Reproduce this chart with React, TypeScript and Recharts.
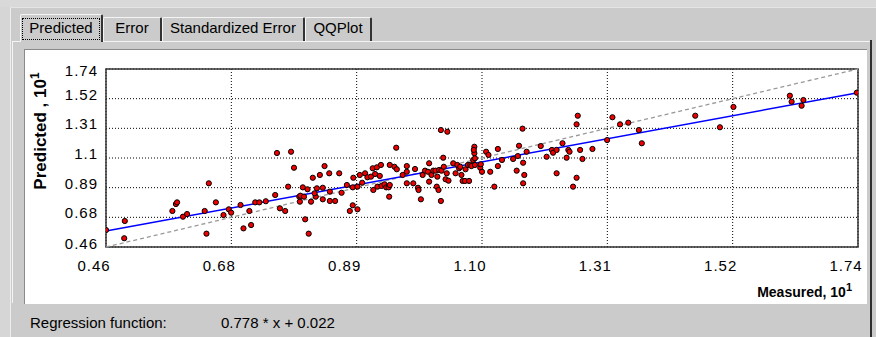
import React from 'react';
import {
  ScatterChart,
  Scatter,
  XAxis,
  YAxis,
  CartesianGrid,
  ReferenceLine,
  ReferenceArea,
} from 'recharts';

const measured = [
  0.46, 0.492, 0.491, 0.573, 0.579, 0.581, 0.591, 0.598, 0.628, 0.631,
  0.635, 0.647, 0.66, 0.669, 0.673, 0.689, 0.694, 0.707, 0.704, 0.714,
  0.721, 0.732, 0.748, 0.756, 0.765, 0.77, 0.751, 0.775, 0.78, 0.789,
  0.791, 0.795, 0.797, 0.803, 0.809, 0.812, 0.799, 0.805, 0.79, 0.817,
  0.819, 0.815, 0.824, 0.829, 0.829, 0.832, 0.84, 0.841, 0.841, 0.85,
  0.857, 0.861, 0.87, 0.875, 0.88, 0.881, 0.888, 0.88, 0.888, 0.892,
  0.896, 0.901, 0.905, 0.911, 0.914, 0.915, 0.918, 0.921, 0.922, 0.926,
  0.928, 0.929, 0.934, 0.937, 0.941, 0.942, 0.943, 0.943, 0.954, 0.951,
  0.955, 0.965, 0.972, 0.972, 0.972, 0.983, 0.986, 0.991, 0.992, 0.996,
  0.999, 1.003, 1.008, 1.01, 1.01, 1.014, 1.017, 1.021, 1.023, 1.024,
  1.026, 1.03, 1.027, 1.031, 1.034, 1.035, 1.03, 1.041, 1.038, 1.04,
  1.043, 1.051, 1.055, 1.058, 1.061, 1.063, 1.065, 1.067, 1.071, 1.072,
  1.076, 1.078, 1.08, 1.082, 1.085, 1.087, 1.087, 1.088, 1.086, 1.088,
  1.097, 1.098, 1.1, 1.107, 1.111, 1.114, 1.121, 1.127, 1.127, 1.134,
  1.153, 1.159, 1.161, 1.163, 1.169, 1.17, 1.172, 1.17, 1.176, 1.2,
  1.21, 1.219, 1.221, 1.227, 1.227, 1.237, 1.244, 1.247, 1.255, 1.261,
  1.263, 1.261, 1.249, 1.267, 1.271, 1.288, 1.313, 1.322, 1.335, 1.349,
  1.367, 1.372, 1.463, 1.505, 1.528, 1.624, 1.627, 1.644, 1.647, 1.738,
];

const predicted = [
  0.582, 0.647, 0.523, 0.719, 0.769, 0.781, 0.678, 0.697, 0.719, 0.556,
  0.918, 0.781, 0.69, 0.731, 0.707, 0.762, 0.594, 0.618, 0.719, 0.781,
  0.781, 0.789, 0.834, 0.738, 0.719, 0.894, 1.136, 1.145, 1.03, 0.822,
  0.829, 0.889, 0.822, 0.875, 0.786, 0.958, 0.659, 0.556, 0.786, 0.822,
  0.882, 0.846, 0.978, 0.886, 0.803, 1.042, 0.99, 0.858, 0.791, 0.791,
  0.99, 0.85, 0.906, 0.719, 0.76, 0.958, 0.731, 0.889, 0.894, 0.978,
  0.922, 0.99, 0.961, 0.966, 1.026, 0.87, 0.985, 1.033, 0.894, 0.971,
  1.05, 0.899, 0.911, 0.889, 0.889, 0.822, 0.906, 1.05, 1.174, 1.037,
  1.019, 0.978, 0.918, 1.001, 1.042, 0.918, 1.021, 0.886, 0.87, 0.803,
  0.978, 1.009, 1.001, 1.062, 0.93, 0.978, 1.009, 1.009, 0.894, 0.966,
  0.87, 0.791, 1.014, 1.009, 1.102, 1.037, 1.301, 1.289, 0.947, 0.99,
  0.937, 1.062, 0.99, 1.05, 1.026, 1.037, 0.978, 0.935, 0.935, 1.019,
  1.05, 0.935, 1.05, 1.042, 1.086, 1.181, 1.134, 1.098, 1.158, 1.05,
  1.03, 1.055, 1.001, 1.145, 1.122, 1.001, 0.894, 1.165, 1.042, 1.086,
  1.093, 1.009, 1.114, 1.188, 1.311, 1.066, 0.978, 0.918, 1.145, 1.186,
  1.109, 1.158, 1.138, 1.158, 0.99, 1.206, 1.102, 1.158, 0.894, 0.958,
  1.404, 1.342, 1.145, 1.158, 1.093, 1.165, 1.229, 1.393, 1.342, 1.354,
  1.301, 1.206, 1.404, 1.321, 1.467, 1.548, 1.505, 1.476, 1.517, 1.57,
];

const xTickLabels = ['0.46', '0.68', '0.89', '1.10', '1.31', '1.52', '1.74'];
const yTickLabels = ['0.46', '0.68', '0.89', '1.1', '1.31', '1.52', '1.74'];

const regressionLine = [
  { x: 0.46, y: 0.575 },
  { x: 1.74, y: 1.57 },
];
const identityLine = [
  { x: 0.46, y: 0.46 },
  { x: 1.74, y: 1.74 },
];

const axisMin = 0.46;
const axisMax = 1.74;

const points = measured.map((x, i) => ({ x, y: predicted[i] }));
const ticks = xTickLabels.map((_, i) => axisMin + (i * (axisMax - axisMin)) / 6);

const FONT = '"Liberation Sans", Arial, sans-serif';
const GREY = '#cbcbcb';

const XTick = (props: any) => {
  const { x, y, payload } = props;
  return (
    <text x={x - 12} y={y + 24} textAnchor="middle" fontSize={15} letterSpacing={1} fill="#000" fontFamily={FONT}>
      {xTickLabels[payload.index]}
    </text>
  );
};

const YTick = (props: any) => {
  const { x, y, payload } = props;
  const dy = payload.index === 6 ? 7 : payload.index === 0 ? 2 : 1;
  return (
    <text x={x - 8} y={y + dy} textAnchor="end" fontSize={15} letterSpacing={1} fill="#000" fontFamily={FONT}>
      {yTickLabels[payload.index]}
    </text>
  );
};

const Dot = (props: any) => (
  <circle cx={props.cx} cy={props.cy} r={2.6} fill="#ee0000" stroke="#000" strokeWidth={1} />
);

const tabs = [
  { label: 'Predicted', left: 20, width: 83, selected: true },
  { label: 'Error', left: 103, width: 59 },
  { label: 'Standardized Error', left: 162, width: 143 },
  { label: 'QQPlot', left: 305, width: 67 },
];

const App: React.FC = () => {
  return (
    <div
      style={{
        position: 'absolute',
        left: 0,
        top: 0,
        width: 876,
        height: 337,
        background: GREY,
        overflow: 'hidden',
        fontFamily: FONT,
      }}
    >
      {/* window chrome */}
      <div style={{ position: 'absolute', left: 0, top: 0, width: 876, height: 7, background: '#d9d9d9' }} />
      <div style={{ position: 'absolute', left: 10, top: 7, width: 1, height: 330, background: '#eeeeee' }} />
      <div style={{ position: 'absolute', left: 10, top: 7, width: 866, height: 1, background: '#e4e4e4' }} />
      <div style={{ position: 'absolute', left: 0, top: 7, width: 10, height: 330, background: '#d6d6d6' }} />
      <div style={{ position: 'absolute', left: 870, top: 40, width: 2, height: 297, background: '#303030' }} />
      <div style={{ position: 'absolute', left: 12, top: 41, width: 858, height: 1, background: '#f4f4f4' }} />
      <div style={{ position: 'absolute', left: 12, top: 41, width: 1, height: 262, background: '#f4f4f4' }} />

      {tabs.map(t => (
        <div
          key={t.label}
          style={{
            position: 'absolute',
            left: t.left,
            top: t.selected ? 14 : 17,
            width: t.width,
            height: t.selected ? 28 : 24,
            boxSizing: 'border-box',
            background: GREY,
            borderLeft: '1px solid #f4f4f4',
            borderTop: '1px solid #f4f4f4',
            borderRight: '2px solid #333',
            borderTopLeftRadius: 2,
            borderTopRightRadius: 2,
            zIndex: t.selected ? 2 : 1,
          }}
        >
          <div
            style={{
              position: 'absolute',
              left: 0,
              right: 0,
              top: t.selected ? 4 : 1,
              fontSize: 15,
              lineHeight: '17px',
              textAlign: 'center',
              color: '#000',
              whiteSpace: 'nowrap',
            }}
          >
            {t.label}
          </div>
        </div>
      ))}
      <div
        style={{
          position: 'absolute',
          left: 22,
          top: 18,
          width: 78,
          height: 22,
          boxSizing: 'border-box',
          border: '1px dotted #000',
          zIndex: 3,
        }}
      />

      {/* chart panel */}
      <div
        style={{
          position: 'absolute',
          left: 24,
          top: 49,
          width: 843,
          height: 255,
          boxSizing: 'border-box',
          background: '#fff',
          borderLeft: '1px solid #8a8a8a',
          borderTop: '1px solid #8a8a8a',
        }}
      >
        <ScatterChart width={842} height={254} margin={{ top: 19, right: 9, left: 0, bottom: 0 }}>
          <CartesianGrid stroke="#000" strokeDasharray="1 2" />
          <XAxis
            type="number"
            dataKey="x"
            domain={[axisMin, axisMax]}
            ticks={ticks}
            interval={0}
            allowDataOverflow
            height={57}
            tickSize={0}
            tickMargin={0}
            axisLine={false}
            tickLine={false}
            tick={<XTick />}
          />
          <YAxis
            type="number"
            dataKey="y"
            domain={[axisMin, axisMax]}
            ticks={ticks}
            interval={0}
            allowDataOverflow
            width={81}
            tickSize={0}
            tickMargin={0}
            axisLine={false}
            tickLine={false}
            tick={<YTick />}
          />
          <ReferenceArea
            x1={axisMin}
            x2={axisMax}
            y1={axisMin}
            y2={axisMax}
            fill="none"
            fillOpacity={0}
            stroke="#333"
            strokeWidth={1.5}
          />
          <ReferenceLine
            segment={identityLine}
            stroke="#999"
            strokeWidth={1.3}
            strokeDasharray="4 3"
            ifOverflow="visible"
          />
          <ReferenceLine segment={regressionLine} stroke="#0000ff" strokeWidth={1.5} ifOverflow="visible" />
          <Scatter data={points} shape={<Dot />} isAnimationActive={false} />
          <text
            transform="translate(21,81) rotate(-90)"
            textAnchor="middle"
            fontSize={17}
            fontWeight="bold"
            fontFamily={FONT}
            fill="#000"
          >
            Predicted , 10
            <tspan dy={-7} fontSize={12}>1</tspan>
          </text>
          <text x={827} y={246.5} textAnchor="end" fontSize={14} fontWeight="bold" fontFamily={FONT} fill="#000">
            Measured, 10
            <tspan dy={-6} fontSize={11}>1</tspan>
          </text>
        </ScatterChart>
      </div>

      {/* regression footer */}
      <div style={{ position: 'absolute', left: 30, top: 314, fontSize: 15, lineHeight: '17px', color: '#000', whiteSpace: 'nowrap' }}>
        Regression function:
      </div>
      <div style={{ position: 'absolute', left: 221, top: 314, fontSize: 15, lineHeight: '17px', color: '#000', whiteSpace: 'nowrap' }}>
        0.778 * x + 0.022
      </div>
    </div>
  );
};

export default App;
